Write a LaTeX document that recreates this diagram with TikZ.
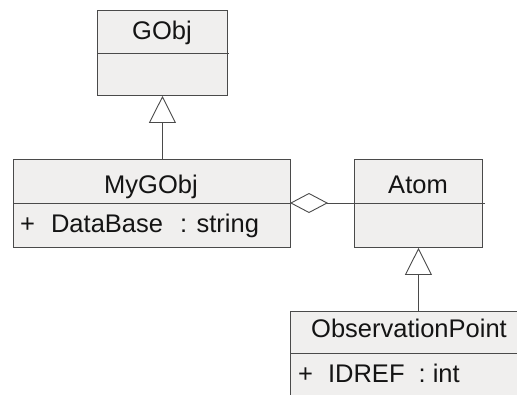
\documentclass[tikz,border=0pt]{standalone}
\usepackage{fontspec}
\setmainfont{Liberation Sans}
\usetikzlibrary{arrows.meta}
\definecolor{boxfill}{HTML}{F0EFEE}
\definecolor{boxline}{HTML}{4A4A4A}
\begin{document}
\begin{tikzpicture}[x=1pt,y=-1pt,
  classbox/.style={draw=boxline, fill=boxfill, line width=0.9pt, anchor=north west, inner sep=0pt},
  label/.style={font=\fontsize{25.5}{30}\selectfont, text=black!92, inner sep=0pt},
  divider/.style={draw=boxline, line width=0.9pt},
  inherit/.style={draw=boxline, line width=0.9pt, -{Triangle[open, length=27pt, width=27pt, fill=white, line width=0.9pt]}},
  aggregate/.style={draw=boxline, line width=0.9pt, {Diamond[open, length=38pt, width=20pt, fill=white, line width=0.9pt]}-}]
\useasboundingbox (0,0) rectangle (517,394);

% class boxes
\node[classbox, minimum width=130pt, minimum height=85pt] (gobj) at (97,10) {};
\node[classbox, minimum width=277pt, minimum height=88pt] (mygobj) at (13,159) {};
\node[classbox, minimum width=128pt, minimum height=88pt] (atom) at (354,159) {};
\node[classbox, minimum width=232pt, minimum height=95pt] (obs) at (290,311) {};

% compartment separators
\draw[divider] (97,53) -- (229,53);
\draw[divider] (13,203) -- (290,203);
\draw[divider] (354,203) -- (485,203);
\draw[divider] (290,353) -- (522,353);

% class names
\node[label, anchor=base] (gobjname) at (162,39) {GObj};
\node[label, anchor=base] (mygobjname) at (151,193) {MyGObj};
\node[label, anchor=base] (atomname) at (418,193) {Atom};
\node[label, anchor=base] (obsname) at (409,337) {ObservationPoint};

% attributes
\node[label, anchor=base west] (dbattr) at (20,232) {+\hspace{16pt}DataBase\hspace{17pt}: string};
\node[label, anchor=base west] (idattr) at (298,382) {+\hspace{15pt}IDREF\hspace{14pt}: int};

% relations
\draw[inherit] (mygobj.north -| gobj.south) -- (gobj.south);
\draw[inherit] (obs.north -| atom.south) -- (atom.south);
\coordinate (aggl) at (290,203);
\coordinate (aggr) at (354,203);
\draw[aggregate] (aggl) -- (aggr);
\end{tikzpicture}
\end{document}
